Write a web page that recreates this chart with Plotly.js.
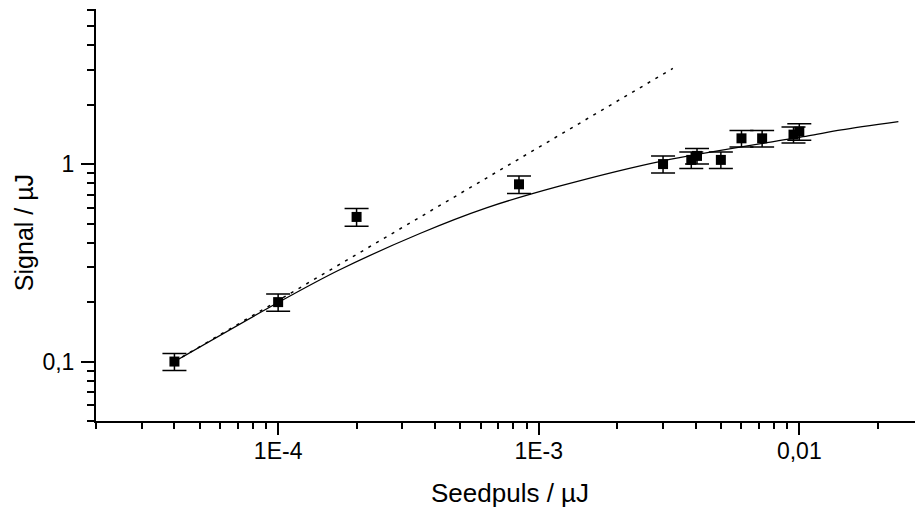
<!DOCTYPE html>
<html><head><meta charset="utf-8">
<script src="https://cdn.plot.ly/plotly-3.0.1.min.js"></script>
<style>html,body{margin:0;padding:0;background:#fff}</style>
</head><body><div id="chart" style="width:915px;height:512px"></div>
<script>
// measured data
const seedX = [4e-5, 1e-4, 2e-4, 8.4e-4, 3.0e-3, 3.85e-3, 4.05e-3, 5.0e-3, 6.0e-3, 7.2e-3, 9.5e-3, 1.0e-2];
const signalY = [0.1, 0.2, 0.54, 0.79, 1.0, 1.05, 1.1, 1.05, 1.35, 1.35, 1.41, 1.46];
const signalErr = [0.01, 0.02, 0.055, 0.08, 0.1, 0.1, 0.1, 0.1, 0.13, 0.13, 0.13, 0.14];
// fit curve (solid)
const fitX = [4e-5, 1e-4, 1.7e-4, 3.5e-4, 6.3e-4, 1.2e-3, 3e-3, 1.08e-2, 1.45e-2, 2.4e-2];
const fitY = [0.1, 0.199, 0.289, 0.445, 0.60, 0.773, 1.039, 1.39, 1.49, 1.64];
// linear (dotted) line
const linX = [4e-5, 3.27e-3];
const linY = [0.1, 3.05];
// ticks
const xTickVals = [1e-4, 1e-3, 1e-2];
const xTickText = ['1E-4', '1E-3', '0,01'];
const xMinor = [2e-5,3e-5,4e-5,5e-5,6e-5,7e-5,8e-5,9e-5,2e-4,3e-4,4e-4,5e-4,6e-4,7e-4,8e-4,9e-4,2e-3,3e-3,4e-3,5e-3,6e-3,7e-3,8e-3,9e-3,2e-2];
const yTickVals = [0.1, 1];
const yTickText = ['0,1', '1'];
const yMinor = [0.05,0.06,0.07,0.08,0.09,0.2,0.3,0.4,0.5,0.6,0.7,0.8,0.9,2,3,4,5,6];

const FONT = 'Arial, "Liberation Sans", sans-serif';

const traces = [
  {x: linX, y: linY, mode: 'lines', line: {color: '#000', width: 1.5, dash: '3px,6px'}, hoverinfo: 'skip'},
  {x: fitX, y: fitY, mode: 'lines', line: {color: '#000', width: 1.3, shape: 'spline', smoothing: 0.8}, hoverinfo: 'skip'},
  {x: seedX, y: signalY, mode: 'markers', marker: {symbol: 'square', size: 10, color: '#000'},
   error_y: {type: 'data', array: signalErr, visible: true, color: '#000', thickness: 1.5, width: 12}}
];

const layout = {
  width: 915, height: 512,
  margin: {l: 96, r: 0, t: 9, b: 91, pad: 0},
  paper_bgcolor: '#fff', plot_bgcolor: '#fff',
  showlegend: false,
  font: {family: FONT, color: '#000', size: 23},
  xaxis: {
    type: 'log', range: [Math.log10(2e-5), -1.556],
    showgrid: false, zeroline: false, showline: true, linecolor: '#000', linewidth: 2,
    ticks: 'outside', ticklen: 12, tickwidth: 2, tickcolor: '#000',
    tickmode: 'array', tickvals: xTickVals, ticktext: xTickText,
    tickfont: {family: FONT, size: 23, color: '#000'}, ticklabelstandoff: -4,
    minor: {tickmode: 'array', tickvals: xMinor, ticks: 'outside', ticklen: 6, tickwidth: 2, tickcolor: '#000', showgrid: false}
  },
  yaxis: {
    type: 'log', range: [Math.log10(0.05), Math.log10(6.1)],
    showgrid: false, zeroline: false, showline: true, linecolor: '#000', linewidth: 2,
    ticks: 'outside', ticklen: 13, tickwidth: 2, tickcolor: '#000',
    tickmode: 'array', tickvals: yTickVals, ticktext: yTickText,
    tickfont: {family: FONT, size: 23, color: '#000'}, ticklabelstandoff: 2,
    minor: {tickmode: 'array', tickvals: yMinor, ticks: 'outside', ticklen: 7, tickwidth: 2, tickcolor: '#000', showgrid: false}
  },
  annotations: [
    {text: 'Seedpuls / µJ', xref: 'paper', yref: 'paper', x: 0.5055, y: -0.1756, xanchor: 'center', yanchor: 'middle', showarrow: false, font: {family: FONT, size: 26, color: '#000'}},
    {text: 'Signal / µJ', xref: 'paper', yref: 'paper', x: -0.0879, y: 0.456, xanchor: 'center', yanchor: 'middle', textangle: -90, showarrow: false, font: {family: FONT, size: 25, color: '#000'}}
  ]
};

Plotly.newPlot('chart', traces, layout, {staticPlot: true, displayModeBar: false});
</script>
</body></html>
